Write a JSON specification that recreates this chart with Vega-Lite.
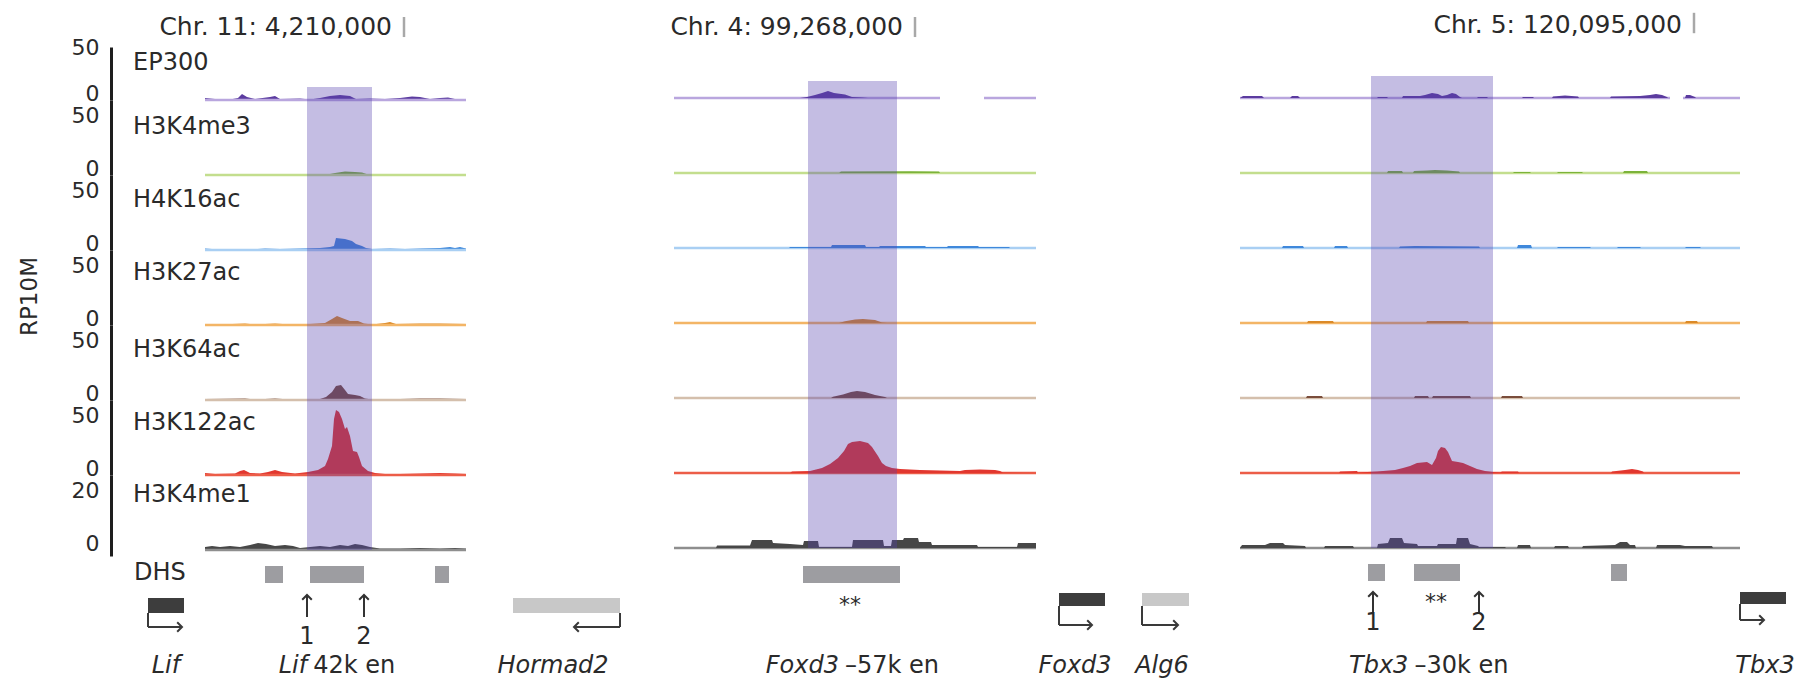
{
"$schema":"https://vega.github.io/schema/vega-lite/v6.json",
"width":1701,"height":679,"autosize":{"type":"none"},"padding":{"left":111,"top":0,"right":0,"bottom":0},"background":"white",
"config":{"view":{"stroke":null},"font":"DejaVu Sans"},
"datasets":{
"tracks":[{"t":"EP300"},{"t":"H3K4me3"},{"t":"H4K16ac"},{"t":"H3K27ac"},{"t":"H3K64ac"},{"t":"H3K122ac"},{"t":"H3K4me1"}],
"chr":[{"p":1,"lab":"Chr. 11: 4,210,000","x":73.25},{"p":2,"lab":"Chr. 4: 99,268,000","x":71},{"p":3,"lab":"Chr. 5: 120,095,000","x":119.75}],
"band":[{"p":1,"x1":49,"x2":65.25},{"p":2,"x1":44.25,"x2":66.5},{"p":3,"x1":39,"x2":69.5}],
"base":[
{"p":1,"t":"EP300","x1":23.5,"x2":88.75},{"p":1,"t":"H3K4me3","x1":23.5,"x2":88.75},{"p":1,"t":"H4K16ac","x1":23.5,"x2":88.75},{"p":1,"t":"H3K27ac","x1":23.5,"x2":88.75},{"p":1,"t":"H3K64ac","x1":23.5,"x2":88.75},{"p":1,"t":"H3K122ac","x1":23.5,"x2":88.75},{"p":1,"t":"H3K4me1","x1":23.5,"x2":88.75},
{"p":2,"t":"EP300","x1":10.75,"x2":77.25},{"p":2,"t":"EP300","x1":88.25,"x2":101.25},{"p":2,"t":"H3K4me3","x1":10.75,"x2":101.25},{"p":2,"t":"H4K16ac","x1":10.75,"x2":101.25},{"p":2,"t":"H3K27ac","x1":10.75,"x2":101.25},{"p":2,"t":"H3K64ac","x1":10.75,"x2":101.25},{"p":2,"t":"H3K122ac","x1":10.75,"x2":101.25},{"p":2,"t":"H3K4me1","x1":10.75,"x2":101.25},
{"p":3,"t":"EP300","x1":6.25,"x2":113.75},{"p":3,"t":"EP300","x1":117,"x2":131.25},{"p":3,"t":"H3K4me3","x1":6.25,"x2":131.25},{"p":3,"t":"H4K16ac","x1":6.25,"x2":131.25},{"p":3,"t":"H3K27ac","x1":6.25,"x2":131.25},{"p":3,"t":"H3K64ac","x1":6.25,"x2":131.25},{"p":3,"t":"H3K122ac","x1":6.25,"x2":131.25},{"p":3,"t":"H3K4me1","x1":6.25,"x2":131.25}],
"dhs":[{"p":1,"x1":38.5,"x2":43},{"p":1,"x1":49.75,"x2":63.25},{"p":1,"x1":81,"x2":84.5},{"p":2,"x1":43,"x2":67.25},{"p":3,"x1":38.25,"x2":42.5},{"p":3,"x1":49.75,"x2":61.25},{"p":3,"x1":99,"x2":103}],
"site":[{"p":1,"x":49,"n":"1"},{"p":1,"x":63.25,"n":"2"},{"p":3,"x":39.5,"n":"1"},{"p":3,"x":66,"n":"2"}],
"star":[{"p":2,"x":54.75,"s":"**"},{"p":3,"x":55.25,"s":"**"}],
"gene":[{"p":1,"g":"Lif","s":9.25,"e":18.25,"tss":9.25,"tip":17.75,"lx":13.75,"role":"target","strand":"+"},{"p":1,"g":"Hormad2","s":100.5,"e":127.25,"tss":127.25,"tip":115.75,"lx":110.5,"role":"neighbor","strand":"-"},{"p":2,"g":"Foxd3","s":107,"e":118.5,"tss":107,"tip":115.25,"lx":111,"role":"target","strand":"+"},{"p":2,"g":"Alg6","s":127.75,"e":139.5,"tss":127.75,"tip":136.75,"lx":132.75,"role":"neighbor","strand":"+"},{"p":3,"g":"Tbx3","s":131.25,"e":142.75,"tss":131.25,"tip":137.25,"lx":137.5,"role":"target","strand":"+"}],
"enh":[{"p":1,"g":"Lif","r":"42k en","x":49.8},{"p":2,"g":"Foxd3","r":"–57k en","x":52.75},{"p":3,"g":"Tbx3","r":"–30k en","x":49.1}],
"sig":[
{"p":1,"t":"EP300","x":23.5,"v":1.9},{"p":1,"t":"EP300","x":26,"v":0.9},{"p":1,"t":"EP300","x":29.75,"v":0.5},{"p":1,"t":"EP300","x":31.75,"v":1.9},{"p":1,"t":"EP300","x":32.75,"v":5.7},{"p":1,"t":"EP300","x":34,"v":2.8},{"p":1,"t":"EP300","x":36,"v":0.9},{"p":1,"t":"EP300","x":39.75,"v":2.8},{"p":1,"t":"EP300","x":41,"v":3.8},{"p":1,"t":"EP300","x":42.25,"v":0.9},{"p":1,"t":"EP300","x":47.25,"v":1.4},{"p":1,"t":"EP300","x":49.75,"v":0.5},{"p":1,"t":"EP300","x":52.25,"v":1.9},{"p":1,"t":"EP300","x":54.75,"v":3.8},{"p":1,"t":"EP300","x":57.25,"v":4.7},{"p":1,"t":"EP300","x":59.75,"v":3.8},{"p":1,"t":"EP300","x":61.25,"v":0.9},{"p":1,"t":"EP300","x":64.75,"v":1.4},{"p":1,"t":"EP300","x":68.5,"v":0.9},{"p":1,"t":"EP300","x":72.25,"v":1.9},{"p":1,"t":"EP300","x":75.25,"v":3.3},{"p":1,"t":"EP300","x":77.25,"v":2.8},{"p":1,"t":"EP300","x":79.75,"v":0.9},{"p":1,"t":"EP300","x":82.25,"v":1.9},{"p":1,"t":"EP300","x":84.25,"v":2.4},{"p":1,"t":"EP300","x":86,"v":0.9},{"p":1,"t":"EP300","x":88.75,"v":0.5},
{"p":1,"t":"H3K4me3","x":23.5,"v":0},{"p":1,"t":"H3K4me3","x":29.25,"v":0},{"p":1,"t":"H3K4me3","x":30.5,"v":0.8},{"p":1,"t":"H3K4me3","x":31.75,"v":0},{"p":1,"t":"H3K4me3","x":53.5,"v":0},{"p":1,"t":"H3K4me3","x":56,"v":1.7},{"p":1,"t":"H3K4me3","x":58.5,"v":2.9},{"p":1,"t":"H3K4me3","x":61,"v":2.5},{"p":1,"t":"H3K4me3","x":62.75,"v":2.1},{"p":1,"t":"H3K4me3","x":64.25,"v":0.4},{"p":1,"t":"H3K4me3","x":65.25,"v":0},{"p":1,"t":"H3K4me3","x":88.75,"v":0},
{"p":1,"t":"H4K16ac","x":23.5,"v":1.3},{"p":1,"t":"H4K16ac","x":25.25,"v":0.8},{"p":1,"t":"H4K16ac","x":27.25,"v":0.4},{"p":1,"t":"H4K16ac","x":32.25,"v":0.8},{"p":1,"t":"H4K16ac","x":34.75,"v":0.4},{"p":1,"t":"H4K16ac","x":38.5,"v":1.3},{"p":1,"t":"H4K16ac","x":42.25,"v":0.8},{"p":1,"t":"H4K16ac","x":47.25,"v":1.3},{"p":1,"t":"H4K16ac","x":52.25,"v":1.7},{"p":1,"t":"H4K16ac","x":54.75,"v":2.5},{"p":1,"t":"H4K16ac","x":55.75,"v":3.3},{"p":1,"t":"H4K16ac","x":56.25,"v":10},{"p":1,"t":"H4K16ac","x":58.5,"v":9.2},{"p":1,"t":"H4K16ac","x":60.25,"v":7.5},{"p":1,"t":"H4K16ac","x":61.25,"v":5},{"p":1,"t":"H4K16ac","x":62.75,"v":3.3},{"p":1,"t":"H4K16ac","x":63.75,"v":1.7},{"p":1,"t":"H4K16ac","x":65.25,"v":0.8},{"p":1,"t":"H4K16ac","x":69.75,"v":1.3},{"p":1,"t":"H4K16ac","x":73.5,"v":0.8},{"p":1,"t":"H4K16ac","x":77.25,"v":1.3},{"p":1,"t":"H4K16ac","x":82.25,"v":1.7},{"p":1,"t":"H4K16ac","x":84.75,"v":2.5},{"p":1,"t":"H4K16ac","x":86,"v":1.7},{"p":1,"t":"H4K16ac","x":87.25,"v":2.5},{"p":1,"t":"H4K16ac","x":88.75,"v":1.3},
{"p":1,"t":"H3K27ac","x":23.5,"v":0.8},{"p":1,"t":"H3K27ac","x":27.25,"v":0.4},{"p":1,"t":"H3K27ac","x":33.5,"v":1.3},{"p":1,"t":"H3K27ac","x":36,"v":0.4},{"p":1,"t":"H3K27ac","x":41,"v":1.3},{"p":1,"t":"H3K27ac","x":44.75,"v":0.4},{"p":1,"t":"H3K27ac","x":49.75,"v":0.8},{"p":1,"t":"H3K27ac","x":53.5,"v":1.7},{"p":1,"t":"H3K27ac","x":55.25,"v":5},{"p":1,"t":"H3K27ac","x":56.5,"v":7.5},{"p":1,"t":"H3K27ac","x":57.75,"v":5.8},{"p":1,"t":"H3K27ac","x":59.75,"v":3.3},{"p":1,"t":"H3K27ac","x":61.75,"v":3.3},{"p":1,"t":"H3K27ac","x":63.25,"v":1.3},{"p":1,"t":"H3K27ac","x":65.25,"v":0.4},{"p":1,"t":"H3K27ac","x":68.5,"v":1.7},{"p":1,"t":"H3K27ac","x":69.75,"v":2.5},{"p":1,"t":"H3K27ac","x":71.25,"v":0.8},{"p":1,"t":"H3K27ac","x":77.25,"v":1.3},{"p":1,"t":"H3K27ac","x":82.25,"v":1.3},{"p":1,"t":"H3K27ac","x":88.75,"v":0.8},
{"p":1,"t":"H3K64ac","x":23.5,"v":0.8},{"p":1,"t":"H3K64ac","x":33.5,"v":1.3},{"p":1,"t":"H3K64ac","x":36,"v":0.4},{"p":1,"t":"H3K64ac","x":41,"v":1.3},{"p":1,"t":"H3K64ac","x":44.75,"v":0.4},{"p":1,"t":"H3K64ac","x":52.25,"v":0.8},{"p":1,"t":"H3K64ac","x":53.75,"v":2.5},{"p":1,"t":"H3K64ac","x":55.25,"v":6.7},{"p":1,"t":"H3K64ac","x":56.25,"v":11.7},{"p":1,"t":"H3K64ac","x":57.5,"v":12.5},{"p":1,"t":"H3K64ac","x":58.5,"v":8.3},{"p":1,"t":"H3K64ac","x":59.25,"v":5},{"p":1,"t":"H3K64ac","x":61,"v":4.2},{"p":1,"t":"H3K64ac","x":62.25,"v":3.3},{"p":1,"t":"H3K64ac","x":63.5,"v":1.3},{"p":1,"t":"H3K64ac","x":65.25,"v":0.4},{"p":1,"t":"H3K64ac","x":72.25,"v":0.8},{"p":1,"t":"H3K64ac","x":77.25,"v":1.3},{"p":1,"t":"H3K64ac","x":82.25,"v":1.3},{"p":1,"t":"H3K64ac","x":88.75,"v":0.8},
{"p":1,"t":"H3K122ac","x":23.5,"v":1.7},{"p":1,"t":"H3K122ac","x":26,"v":0.8},{"p":1,"t":"H3K122ac","x":31,"v":1.3},{"p":1,"t":"H3K122ac","x":32.25,"v":3.3},{"p":1,"t":"H3K122ac","x":33.25,"v":4.2},{"p":1,"t":"H3K122ac","x":34.75,"v":1.7},{"p":1,"t":"H3K122ac","x":37.25,"v":1.3},{"p":1,"t":"H3K122ac","x":39.25,"v":2.5},{"p":1,"t":"H3K122ac","x":41,"v":4.2},{"p":1,"t":"H3K122ac","x":42.75,"v":2.5},{"p":1,"t":"H3K122ac","x":46,"v":1.3},{"p":1,"t":"H3K122ac","x":49.25,"v":2.5},{"p":1,"t":"H3K122ac","x":51.75,"v":4.2},{"p":1,"t":"H3K122ac","x":53.5,"v":7.5},{"p":1,"t":"H3K122ac","x":54.25,"v":13.3},{"p":1,"t":"H3K122ac","x":55.25,"v":24.2},{"p":1,"t":"H3K122ac","x":55.75,"v":46.7},{"p":1,"t":"H3K122ac","x":56.25,"v":54.2},{"p":1,"t":"H3K122ac","x":57,"v":52.5},{"p":1,"t":"H3K122ac","x":57.75,"v":46.7},{"p":1,"t":"H3K122ac","x":58.5,"v":38.3},{"p":1,"t":"H3K122ac","x":59,"v":40},{"p":1,"t":"H3K122ac","x":59.75,"v":32.5},{"p":1,"t":"H3K122ac","x":60.5,"v":20},{"p":1,"t":"H3K122ac","x":61.5,"v":19.2},{"p":1,"t":"H3K122ac","x":62,"v":15},{"p":1,"t":"H3K122ac","x":62.75,"v":7.5},{"p":1,"t":"H3K122ac","x":64.25,"v":3.3},{"p":1,"t":"H3K122ac","x":66,"v":1.7},{"p":1,"t":"H3K122ac","x":68.5,"v":0.8},{"p":1,"t":"H3K122ac","x":72.25,"v":0.8},{"p":1,"t":"H3K122ac","x":77.25,"v":1.3},{"p":1,"t":"H3K122ac","x":82.25,"v":1.7},{"p":1,"t":"H3K122ac","x":86,"v":1.3},{"p":1,"t":"H3K122ac","x":88.75,"v":0.8},
{"p":1,"t":"H3K4me1","x":23.5,"v":1},{"p":1,"t":"H3K4me1","x":25.25,"v":1.3},{"p":1,"t":"H3K4me1","x":27.25,"v":1},{"p":1,"t":"H3K4me1","x":29.75,"v":1.3},{"p":1,"t":"H3K4me1","x":32.25,"v":1},{"p":1,"t":"H3K4me1","x":34.75,"v":1.7},{"p":1,"t":"H3K4me1","x":36.75,"v":2.3},{"p":1,"t":"H3K4me1","x":38.75,"v":2},{"p":1,"t":"H3K4me1","x":41,"v":1.3},{"p":1,"t":"H3K4me1","x":43.5,"v":1.7},{"p":1,"t":"H3K4me1","x":45.5,"v":1.3},{"p":1,"t":"H3K4me1","x":47.25,"v":0.7},{"p":1,"t":"H3K4me1","x":49.75,"v":1},{"p":1,"t":"H3K4me1","x":52.25,"v":1.3},{"p":1,"t":"H3K4me1","x":54.75,"v":1},{"p":1,"t":"H3K4me1","x":57.25,"v":1.7},{"p":1,"t":"H3K4me1","x":59.25,"v":1.3},{"p":1,"t":"H3K4me1","x":61,"v":2},{"p":1,"t":"H3K4me1","x":62.75,"v":1.7},{"p":1,"t":"H3K4me1","x":64.75,"v":1},{"p":1,"t":"H3K4me1","x":67.25,"v":0.5},{"p":1,"t":"H3K4me1","x":72.25,"v":0.5},{"p":1,"t":"H3K4me1","x":77.25,"v":0.7},{"p":1,"t":"H3K4me1","x":82.25,"v":0.5},{"p":1,"t":"H3K4me1","x":86,"v":0.7},{"p":1,"t":"H3K4me1","x":88.75,"v":0.5},
{"p":2,"t":"EP300","x":10.75,"v":0},{"p":2,"t":"EP300","x":42.25,"v":0},{"p":2,"t":"EP300","x":44,"v":0.8},{"p":2,"t":"EP300","x":46,"v":2.5},{"p":2,"t":"EP300","x":47.75,"v":4.2},{"p":2,"t":"EP300","x":49.25,"v":5.8},{"p":2,"t":"EP300","x":50.75,"v":4.2},{"p":2,"t":"EP300","x":53.5,"v":2.9},{"p":2,"t":"EP300","x":55.25,"v":0.8},{"p":2,"t":"EP300","x":57.75,"v":0.4},{"p":2,"t":"EP300","x":59.25,"v":0},{"p":2,"t":"EP300","x":101.25,"v":0},
{"p":2,"t":"H3K4me3","x":10.75,"v":0},{"p":2,"t":"H3K4me3","x":52,"v":0},{"p":2,"t":"H3K4me3","x":52.5,"v":1.2},{"p":2,"t":"H3K4me3","x":70,"v":1.5},{"p":2,"t":"H3K4me3","x":77,"v":1.2},{"p":2,"t":"H3K4me3","x":77.25,"v":0},{"p":2,"t":"H3K4me3","x":101.25,"v":0},
{"p":2,"t":"H4K16ac","x":10.75,"v":0},{"p":2,"t":"H4K16ac","x":39.5,"v":0},{"p":2,"t":"H4K16ac","x":39.75,"v":0.8},{"p":2,"t":"H4K16ac","x":50,"v":0.8},{"p":2,"t":"H4K16ac","x":50.25,"v":2.5},{"p":2,"t":"H4K16ac","x":58.5,"v":2.5},{"p":2,"t":"H4K16ac","x":58.75,"v":0.8},{"p":2,"t":"H4K16ac","x":62,"v":0.8},{"p":2,"t":"H4K16ac","x":62.25,"v":1.7},{"p":2,"t":"H4K16ac","x":73.5,"v":1.7},{"p":2,"t":"H4K16ac","x":73.75,"v":0.8},{"p":2,"t":"H4K16ac","x":79,"v":0.8},{"p":2,"t":"H4K16ac","x":79.25,"v":1.7},{"p":2,"t":"H4K16ac","x":86.75,"v":1.7},{"p":2,"t":"H4K16ac","x":87,"v":0.8},{"p":2,"t":"H4K16ac","x":94.5,"v":0.8},{"p":2,"t":"H4K16ac","x":94.75,"v":0},{"p":2,"t":"H4K16ac","x":101.25,"v":0},
{"p":2,"t":"H3K27ac","x":10.75,"v":0},{"p":2,"t":"H3K27ac","x":52,"v":0},{"p":2,"t":"H3K27ac","x":53.5,"v":1.5},{"p":2,"t":"H3K27ac","x":56,"v":3},{"p":2,"t":"H3K27ac","x":58,"v":3.3},{"p":2,"t":"H3K27ac","x":61,"v":2.5},{"p":2,"t":"H3K27ac","x":62.75,"v":0.5},{"p":2,"t":"H3K27ac","x":64,"v":0},{"p":2,"t":"H3K27ac","x":101.25,"v":0},
{"p":2,"t":"H3K64ac","x":10.75,"v":0},{"p":2,"t":"H3K64ac","x":50,"v":0},{"p":2,"t":"H3K64ac","x":50.5,"v":1},{"p":2,"t":"H3K64ac","x":53,"v":3},{"p":2,"t":"H3K64ac","x":55,"v":5},{"p":2,"t":"H3K64ac","x":56.5,"v":5.8},{"p":2,"t":"H3K64ac","x":58.5,"v":5},{"p":2,"t":"H3K64ac","x":61,"v":2.5},{"p":2,"t":"H3K64ac","x":63.5,"v":0.8},{"p":2,"t":"H3K64ac","x":64,"v":0},{"p":2,"t":"H3K64ac","x":101.25,"v":0},
{"p":2,"t":"H3K122ac","x":10.75,"v":0},{"p":2,"t":"H3K122ac","x":39.75,"v":0},{"p":2,"t":"H3K122ac","x":40.25,"v":1.3},{"p":2,"t":"H3K122ac","x":44.75,"v":1.7},{"p":2,"t":"H3K122ac","x":47.75,"v":4.2},{"p":2,"t":"H3K122ac","x":49.75,"v":7.5},{"p":2,"t":"H3K122ac","x":51.75,"v":12.5},{"p":2,"t":"H3K122ac","x":53.25,"v":18.3},{"p":2,"t":"H3K122ac","x":54.25,"v":24.2},{"p":2,"t":"H3K122ac","x":55.25,"v":25.8},{"p":2,"t":"H3K122ac","x":57.25,"v":26.7},{"p":2,"t":"H3K122ac","x":59.25,"v":25},{"p":2,"t":"H3K122ac","x":60.25,"v":21.7},{"p":2,"t":"H3K122ac","x":61.75,"v":14.2},{"p":2,"t":"H3K122ac","x":62.75,"v":8.3},{"p":2,"t":"H3K122ac","x":63.75,"v":5.8},{"p":2,"t":"H3K122ac","x":65.25,"v":4.2},{"p":2,"t":"H3K122ac","x":67.25,"v":3.3},{"p":2,"t":"H3K122ac","x":72.25,"v":2.5},{"p":2,"t":"H3K122ac","x":77.25,"v":2.1},{"p":2,"t":"H3K122ac","x":82.25,"v":1.7},{"p":2,"t":"H3K122ac","x":83.5,"v":2.5},{"p":2,"t":"H3K122ac","x":87.25,"v":2.9},{"p":2,"t":"H3K122ac","x":91,"v":2.5},{"p":2,"t":"H3K122ac","x":92.25,"v":1.7},{"p":2,"t":"H3K122ac","x":93,"v":0.4},{"p":2,"t":"H3K122ac","x":101.25,"v":0},
{"p":2,"t":"H3K4me1","x":10.75,"v":0},{"p":2,"t":"H3K4me1","x":21.25,"v":0},{"p":2,"t":"H3K4me1","x":21.5,"v":0.8},{"p":2,"t":"H3K4me1","x":29.75,"v":0.8},{"p":2,"t":"H3K4me1","x":30.25,"v":2.7},{"p":2,"t":"H3K4me1","x":35.25,"v":2.7},{"p":2,"t":"H3K4me1","x":35.5,"v":1.7},{"p":2,"t":"H3K4me1","x":39.75,"v":1.3},{"p":2,"t":"H3K4me1","x":43,"v":1},{"p":2,"t":"H3K4me1","x":43.25,"v":2.3},{"p":2,"t":"H3K4me1","x":46.75,"v":2.3},{"p":2,"t":"H3K4me1","x":47,"v":0.3},{"p":2,"t":"H3K4me1","x":55.25,"v":0.3},{"p":2,"t":"H3K4me1","x":55.5,"v":2.7},{"p":2,"t":"H3K4me1","x":63,"v":2.7},{"p":2,"t":"H3K4me1","x":63.25,"v":0.7},{"p":2,"t":"H3K4me1","x":65,"v":0.7},{"p":2,"t":"H3K4me1","x":65.25,"v":2.7},{"p":2,"t":"H3K4me1","x":68,"v":2.7},{"p":2,"t":"H3K4me1","x":68.25,"v":3.3},{"p":2,"t":"H3K4me1","x":71.75,"v":3.3},{"p":2,"t":"H3K4me1","x":72,"v":2},{"p":2,"t":"H3K4me1","x":75,"v":2},{"p":2,"t":"H3K4me1","x":75.25,"v":1},{"p":2,"t":"H3K4me1","x":86.5,"v":1},{"p":2,"t":"H3K4me1","x":86.75,"v":0.3},{"p":2,"t":"H3K4me1","x":96.5,"v":0.3},{"p":2,"t":"H3K4me1","x":96.75,"v":1.7},{"p":2,"t":"H3K4me1","x":101.25,"v":1.7},
{"p":3,"t":"EP300","x":6.25,"v":0},{"p":3,"t":"EP300","x":7,"v":1.7},{"p":3,"t":"EP300","x":11.75,"v":1.7},{"p":3,"t":"EP300","x":12.25,"v":0},{"p":3,"t":"EP300","x":18.75,"v":0},{"p":3,"t":"EP300","x":19.25,"v":1.7},{"p":3,"t":"EP300","x":20.75,"v":1.7},{"p":3,"t":"EP300","x":21.25,"v":0},{"p":3,"t":"EP300","x":40.5,"v":0},{"p":3,"t":"EP300","x":40.75,"v":0.8},{"p":3,"t":"EP300","x":43,"v":0.8},{"p":3,"t":"EP300","x":43.25,"v":0},{"p":3,"t":"EP300","x":46.75,"v":0},{"p":3,"t":"EP300","x":47,"v":1.7},{"p":3,"t":"EP300","x":51.25,"v":1.7},{"p":3,"t":"EP300","x":52.5,"v":2.5},{"p":3,"t":"EP300","x":54.25,"v":4.2},{"p":3,"t":"EP300","x":55.75,"v":3.3},{"p":3,"t":"EP300","x":56.75,"v":1.7},{"p":3,"t":"EP300","x":58,"v":2.5},{"p":3,"t":"EP300","x":59.25,"v":4.2},{"p":3,"t":"EP300","x":60.25,"v":3.3},{"p":3,"t":"EP300","x":61.25,"v":0.8},{"p":3,"t":"EP300","x":61.75,"v":0},{"p":3,"t":"EP300","x":65.5,"v":0},{"p":3,"t":"EP300","x":65.75,"v":0.8},{"p":3,"t":"EP300","x":68,"v":0.8},{"p":3,"t":"EP300","x":68.25,"v":0},{"p":3,"t":"EP300","x":76.75,"v":0},{"p":3,"t":"EP300","x":77,"v":0.8},{"p":3,"t":"EP300","x":79.5,"v":0.8},{"p":3,"t":"EP300","x":79.75,"v":0},{"p":3,"t":"EP300","x":84.25,"v":0},{"p":3,"t":"EP300","x":84.5,"v":1.3},{"p":3,"t":"EP300","x":87.5,"v":2.1},{"p":3,"t":"EP300","x":90.75,"v":1.3},{"p":3,"t":"EP300","x":91,"v":0},{"p":3,"t":"EP300","x":98.75,"v":0},{"p":3,"t":"EP300","x":99,"v":1.3},{"p":3,"t":"EP300","x":106.25,"v":1.7},{"p":3,"t":"EP300","x":108.75,"v":2.5},{"p":3,"t":"EP300","x":110.25,"v":3.3},{"p":3,"t":"EP300","x":111.75,"v":2.5},{"p":3,"t":"EP300","x":113,"v":0.8},{"p":3,"t":"EP300","x":113.25,"v":0},{"p":3,"t":"EP300","x":117.5,"v":0},{"p":3,"t":"EP300","x":117.75,"v":2.5},{"p":3,"t":"EP300","x":118.75,"v":2.5},{"p":3,"t":"EP300","x":120,"v":0.8},{"p":3,"t":"EP300","x":120.25,"v":0},{"p":3,"t":"EP300","x":131.25,"v":0},
{"p":3,"t":"H3K4me3","x":6.25,"v":0},{"p":3,"t":"H3K4me3","x":43,"v":0},{"p":3,"t":"H3K4me3","x":43.25,"v":1.7},{"p":3,"t":"H3K4me3","x":46.75,"v":1.7},{"p":3,"t":"H3K4me3","x":47,"v":0},{"p":3,"t":"H3K4me3","x":49.5,"v":0},{"p":3,"t":"H3K4me3","x":49.75,"v":1.7},{"p":3,"t":"H3K4me3","x":53,"v":2},{"p":3,"t":"H3K4me3","x":55,"v":2.5},{"p":3,"t":"H3K4me3","x":58,"v":2},{"p":3,"t":"H3K4me3","x":61,"v":1.3},{"p":3,"t":"H3K4me3","x":61.25,"v":0},{"p":3,"t":"H3K4me3","x":74.5,"v":0},{"p":3,"t":"H3K4me3","x":74.75,"v":0.8},{"p":3,"t":"H3K4me3","x":78.75,"v":0.8},{"p":3,"t":"H3K4me3","x":79,"v":0},{"p":3,"t":"H3K4me3","x":85.5,"v":0},{"p":3,"t":"H3K4me3","x":85.75,"v":0.8},{"p":3,"t":"H3K4me3","x":91.75,"v":0.8},{"p":3,"t":"H3K4me3","x":92,"v":0},{"p":3,"t":"H3K4me3","x":102,"v":0},{"p":3,"t":"H3K4me3","x":102.25,"v":1.7},{"p":3,"t":"H3K4me3","x":108,"v":1.7},{"p":3,"t":"H3K4me3","x":108.25,"v":0},{"p":3,"t":"H3K4me3","x":131.25,"v":0},
{"p":3,"t":"H4K16ac","x":6.25,"v":0},{"p":3,"t":"H4K16ac","x":16.75,"v":0},{"p":3,"t":"H4K16ac","x":17,"v":1.7},{"p":3,"t":"H4K16ac","x":22,"v":1.7},{"p":3,"t":"H4K16ac","x":22.25,"v":0},{"p":3,"t":"H4K16ac","x":29.75,"v":0},{"p":3,"t":"H4K16ac","x":30,"v":1.7},{"p":3,"t":"H4K16ac","x":33,"v":1.7},{"p":3,"t":"H4K16ac","x":33.25,"v":0},{"p":3,"t":"H4K16ac","x":46,"v":0},{"p":3,"t":"H4K16ac","x":46.25,"v":1.3},{"p":3,"t":"H4K16ac","x":50,"v":1.7},{"p":3,"t":"H4K16ac","x":66,"v":1.3},{"p":3,"t":"H4K16ac","x":66.25,"v":0},{"p":3,"t":"H4K16ac","x":75.5,"v":0},{"p":3,"t":"H4K16ac","x":75.75,"v":2.5},{"p":3,"t":"H4K16ac","x":79,"v":2.5},{"p":3,"t":"H4K16ac","x":79.25,"v":0},{"p":3,"t":"H4K16ac","x":85.5,"v":0},{"p":3,"t":"H4K16ac","x":85.75,"v":0.8},{"p":3,"t":"H4K16ac","x":93.75,"v":0.8},{"p":3,"t":"H4K16ac","x":94,"v":0},{"p":3,"t":"H4K16ac","x":100.5,"v":0},{"p":3,"t":"H4K16ac","x":100.75,"v":0.8},{"p":3,"t":"H4K16ac","x":106.25,"v":0.8},{"p":3,"t":"H4K16ac","x":106.5,"v":0},{"p":3,"t":"H4K16ac","x":117.5,"v":0},{"p":3,"t":"H4K16ac","x":117.75,"v":0.8},{"p":3,"t":"H4K16ac","x":121.25,"v":0.8},{"p":3,"t":"H4K16ac","x":121.5,"v":0},{"p":3,"t":"H4K16ac","x":131.25,"v":0},
{"p":3,"t":"H3K27ac","x":6.25,"v":0},{"p":3,"t":"H3K27ac","x":23,"v":0},{"p":3,"t":"H3K27ac","x":23.25,"v":1.7},{"p":3,"t":"H3K27ac","x":29.5,"v":1.7},{"p":3,"t":"H3K27ac","x":29.75,"v":0},{"p":3,"t":"H3K27ac","x":52.75,"v":0},{"p":3,"t":"H3K27ac","x":53,"v":1.7},{"p":3,"t":"H3K27ac","x":63.25,"v":1.7},{"p":3,"t":"H3K27ac","x":63.5,"v":0},{"p":3,"t":"H3K27ac","x":117.5,"v":0},{"p":3,"t":"H3K27ac","x":117.75,"v":1.7},{"p":3,"t":"H3K27ac","x":120.5,"v":1.7},{"p":3,"t":"H3K27ac","x":120.75,"v":0},{"p":3,"t":"H3K27ac","x":131.25,"v":0},
{"p":3,"t":"H3K64ac","x":6.25,"v":0},{"p":3,"t":"H3K64ac","x":22.75,"v":0},{"p":3,"t":"H3K64ac","x":23,"v":1.7},{"p":3,"t":"H3K64ac","x":26.75,"v":1.7},{"p":3,"t":"H3K64ac","x":27,"v":0},{"p":3,"t":"H3K64ac","x":49.75,"v":0},{"p":3,"t":"H3K64ac","x":50,"v":1.7},{"p":3,"t":"H3K64ac","x":53.25,"v":1.7},{"p":3,"t":"H3K64ac","x":53.5,"v":0},{"p":3,"t":"H3K64ac","x":54.25,"v":0},{"p":3,"t":"H3K64ac","x":54.5,"v":1.7},{"p":3,"t":"H3K64ac","x":63.75,"v":1.7},{"p":3,"t":"H3K64ac","x":64,"v":0},{"p":3,"t":"H3K64ac","x":71.5,"v":0},{"p":3,"t":"H3K64ac","x":71.75,"v":1.7},{"p":3,"t":"H3K64ac","x":76.75,"v":1.7},{"p":3,"t":"H3K64ac","x":77,"v":0},{"p":3,"t":"H3K64ac","x":131.25,"v":0},
{"p":3,"t":"H3K122ac","x":6.25,"v":0},{"p":3,"t":"H3K122ac","x":31,"v":0},{"p":3,"t":"H3K122ac","x":31.25,"v":1.3},{"p":3,"t":"H3K122ac","x":35.5,"v":1.7},{"p":3,"t":"H3K122ac","x":35.75,"v":0.4},{"p":3,"t":"H3K122ac","x":40.5,"v":1.3},{"p":3,"t":"H3K122ac","x":45,"v":2.5},{"p":3,"t":"H3K122ac","x":47,"v":4.2},{"p":3,"t":"H3K122ac","x":48.75,"v":5.8},{"p":3,"t":"H3K122ac","x":50.5,"v":8.3},{"p":3,"t":"H3K122ac","x":53,"v":9.2},{"p":3,"t":"H3K122ac","x":54.25,"v":6.7},{"p":3,"t":"H3K122ac","x":55.25,"v":12.5},{"p":3,"t":"H3K122ac","x":55.75,"v":18.3},{"p":3,"t":"H3K122ac","x":56.5,"v":21.7},{"p":3,"t":"H3K122ac","x":57.5,"v":20.8},{"p":3,"t":"H3K122ac","x":58.25,"v":17.5},{"p":3,"t":"H3K122ac","x":59.25,"v":10},{"p":3,"t":"H3K122ac","x":60.75,"v":9.2},{"p":3,"t":"H3K122ac","x":62,"v":8.3},{"p":3,"t":"H3K122ac","x":63.75,"v":5.8},{"p":3,"t":"H3K122ac","x":65.5,"v":3.3},{"p":3,"t":"H3K122ac","x":67.5,"v":1.7},{"p":3,"t":"H3K122ac","x":69.5,"v":0.8},{"p":3,"t":"H3K122ac","x":71.25,"v":0.4},{"p":3,"t":"H3K122ac","x":71.75,"v":1.3},{"p":3,"t":"H3K122ac","x":75.75,"v":1.3},{"p":3,"t":"H3K122ac","x":76,"v":0},{"p":3,"t":"H3K122ac","x":99,"v":0},{"p":3,"t":"H3K122ac","x":99.25,"v":1.3},{"p":3,"t":"H3K122ac","x":102.5,"v":2.5},{"p":3,"t":"H3K122ac","x":104.25,"v":3.3},{"p":3,"t":"H3K122ac","x":105.75,"v":2.5},{"p":3,"t":"H3K122ac","x":107,"v":1.3},{"p":3,"t":"H3K122ac","x":107.25,"v":0},{"p":3,"t":"H3K122ac","x":131.25,"v":0},
{"p":3,"t":"H3K4me1","x":6.25,"v":0},{"p":3,"t":"H3K4me1","x":6.75,"v":1},{"p":3,"t":"H3K4me1","x":12.5,"v":1},{"p":3,"t":"H3K4me1","x":13.75,"v":1.7},{"p":3,"t":"H3K4me1","x":17,"v":1.7},{"p":3,"t":"H3K4me1","x":17.5,"v":1},{"p":3,"t":"H3K4me1","x":22.5,"v":0.7},{"p":3,"t":"H3K4me1","x":22.75,"v":0},{"p":3,"t":"H3K4me1","x":27.25,"v":0},{"p":3,"t":"H3K4me1","x":27.5,"v":0.7},{"p":3,"t":"H3K4me1","x":34.5,"v":0.7},{"p":3,"t":"H3K4me1","x":34.75,"v":0},{"p":3,"t":"H3K4me1","x":40.5,"v":0},{"p":3,"t":"H3K4me1","x":40.75,"v":1.3},{"p":3,"t":"H3K4me1","x":43.25,"v":1.7},{"p":3,"t":"H3K4me1","x":43.75,"v":3.3},{"p":3,"t":"H3K4me1","x":46.75,"v":3.3},{"p":3,"t":"H3K4me1","x":47.25,"v":1.7},{"p":3,"t":"H3K4me1","x":50.5,"v":1.3},{"p":3,"t":"H3K4me1","x":50.75,"v":0.7},{"p":3,"t":"H3K4me1","x":55.5,"v":0.7},{"p":3,"t":"H3K4me1","x":55.75,"v":1.3},{"p":3,"t":"H3K4me1","x":60.25,"v":1.3},{"p":3,"t":"H3K4me1","x":60.5,"v":3.3},{"p":3,"t":"H3K4me1","x":63.25,"v":3.3},{"p":3,"t":"H3K4me1","x":63.75,"v":1.3},{"p":3,"t":"H3K4me1","x":65.75,"v":0.7},{"p":3,"t":"H3K4me1","x":66,"v":0.3},{"p":3,"t":"H3K4me1","x":72.5,"v":0.3},{"p":3,"t":"H3K4me1","x":72.75,"v":0},{"p":3,"t":"H3K4me1","x":75.5,"v":0},{"p":3,"t":"H3K4me1","x":75.75,"v":1},{"p":3,"t":"H3K4me1","x":78.75,"v":1},{"p":3,"t":"H3K4me1","x":79,"v":0},{"p":3,"t":"H3K4me1","x":84.75,"v":0},{"p":3,"t":"H3K4me1","x":85,"v":0.7},{"p":3,"t":"H3K4me1","x":88.25,"v":0.7},{"p":3,"t":"H3K4me1","x":88.5,"v":0},{"p":3,"t":"H3K4me1","x":91.75,"v":0},{"p":3,"t":"H3K4me1","x":92,"v":0.7},{"p":3,"t":"H3K4me1","x":100,"v":1},{"p":3,"t":"H3K4me1","x":101.25,"v":2},{"p":3,"t":"H3K4me1","x":103,"v":2},{"p":3,"t":"H3K4me1","x":103.75,"v":1},{"p":3,"t":"H3K4me1","x":105,"v":1},{"p":3,"t":"H3K4me1","x":105.25,"v":0},{"p":3,"t":"H3K4me1","x":110.25,"v":0},{"p":3,"t":"H3K4me1","x":110.5,"v":1},{"p":3,"t":"H3K4me1","x":116.25,"v":1},{"p":3,"t":"H3K4me1","x":117.5,"v":0.7},{"p":3,"t":"H3K4me1","x":124.25,"v":0.7},{"p":3,"t":"H3K4me1","x":124.5,"v":0},{"p":3,"t":"H3K4me1","x":131.25,"v":0}
]},
"layer":[
{"data":{"name":"sig"},"transform":[{"filter":"datum.p==1&&datum.t=='EP300'"}],"mark":{"type":"area","color":"#5b3b9f"},"encoding":{"x":{"field":"x","type":"quantitative","scale":{"domain":[0,130],"range":[0,520],"nice":false,"zero":false},"axis":null},"y":{"field":"v","type":"quantitative","scale":{"domain":[0,50],"range":[100,47],"nice":false,"zero":false},"axis":{"orient":"left","values":[0,50],"ticks":false,"domainColor":"#1e1e1e","domainWidth":3,"labelFontSize":22,"labelColor":"#2a2a2a","labelPadding":12,"labelBaseline":{"condition":{"test":"datum.value==0","value":"alphabetic"},"value":"middle"},"grid":false,"title":null}}}},
{"data":{"name":"sig"},"transform":[{"filter":"datum.p==1&&datum.t=='H3K4me3'"}],"mark":{"type":"area","color":"#7cb33a"},"encoding":{"x":{"field":"x","type":"quantitative","scale":{"domain":[0,130],"range":[0,520],"nice":false,"zero":false},"axis":null},"y":{"field":"v","type":"quantitative","scale":{"domain":[0,62.5],"range":[175,100],"nice":false,"zero":false},"axis":{"orient":"left","values":[0,50],"ticks":false,"domainColor":"#1e1e1e","domainWidth":3,"labelFontSize":22,"labelColor":"#2a2a2a","labelPadding":12,"labelBaseline":{"condition":{"test":"datum.value==0","value":"alphabetic"},"value":"middle"},"grid":false,"title":null}}}},
{"data":{"name":"sig"},"transform":[{"filter":"datum.p==1&&datum.t=='H4K16ac'"}],"mark":{"type":"area","color":"#3f88db"},"encoding":{"x":{"field":"x","type":"quantitative","scale":{"domain":[0,130],"range":[0,520],"nice":false,"zero":false},"axis":null},"y":{"field":"v","type":"quantitative","scale":{"domain":[0,62.5],"range":[250,175],"nice":false,"zero":false},"axis":{"orient":"left","values":[0,50],"ticks":false,"domainColor":"#1e1e1e","domainWidth":3,"labelFontSize":22,"labelColor":"#2a2a2a","labelPadding":12,"labelBaseline":{"condition":{"test":"datum.value==0","value":"alphabetic"},"value":"middle"},"grid":false,"title":null}}}},
{"data":{"name":"sig"},"transform":[{"filter":"datum.p==1&&datum.t=='H3K27ac'"}],"mark":{"type":"area","color":"#db8a28"},"encoding":{"x":{"field":"x","type":"quantitative","scale":{"domain":[0,130],"range":[0,520],"nice":false,"zero":false},"axis":null},"y":{"field":"v","type":"quantitative","scale":{"domain":[0,62.5],"range":[325,250],"nice":false,"zero":false},"axis":{"orient":"left","values":[0,50],"ticks":false,"domainColor":"#1e1e1e","domainWidth":3,"labelFontSize":22,"labelColor":"#2a2a2a","labelPadding":12,"labelBaseline":{"condition":{"test":"datum.value==0","value":"alphabetic"},"value":"middle"},"grid":false,"title":"RP10M","titleX":-82,"titleY":296,"titleAngle":-90,"titleAlign":"center","titleBaseline":"middle","titleFontSize":23,"titleFontWeight":"normal","titleColor":"#2a2a2a"}}}},
{"data":{"name":"sig"},"transform":[{"filter":"datum.p==1&&datum.t=='H3K64ac'"}],"mark":{"type":"area","color":"#7a4d3b"},"encoding":{"x":{"field":"x","type":"quantitative","scale":{"domain":[0,130],"range":[0,520],"nice":false,"zero":false},"axis":null},"y":{"field":"v","type":"quantitative","scale":{"domain":[0,62.5],"range":[400,325],"nice":false,"zero":false},"axis":{"orient":"left","values":[0,50],"ticks":false,"domainColor":"#1e1e1e","domainWidth":3,"labelFontSize":22,"labelColor":"#2a2a2a","labelPadding":12,"labelBaseline":{"condition":{"test":"datum.value==0","value":"alphabetic"},"value":"middle"},"grid":false,"title":null}}}},
{"data":{"name":"sig"},"transform":[{"filter":"datum.p==1&&datum.t=='H3K122ac'"}],"mark":{"type":"area","color":"#e2372f"},"encoding":{"x":{"field":"x","type":"quantitative","scale":{"domain":[0,130],"range":[0,520],"nice":false,"zero":false},"axis":null},"y":{"field":"v","type":"quantitative","scale":{"domain":[0,62.5],"range":[475,400],"nice":false,"zero":false},"axis":{"orient":"left","values":[0,50],"ticks":false,"domainColor":"#1e1e1e","domainWidth":3,"labelFontSize":22,"labelColor":"#2a2a2a","labelPadding":12,"labelBaseline":{"condition":{"test":"datum.value==0","value":"alphabetic"},"value":"middle"},"grid":false,"title":null}}}},
{"data":{"name":"sig"},"transform":[{"filter":"datum.p==1&&datum.t=='H3K4me1'"}],"mark":{"type":"area","color":"#474747"},"encoding":{"x":{"field":"x","type":"quantitative","scale":{"domain":[0,130],"range":[0,520],"nice":false,"zero":false},"axis":null},"y":{"field":"v","type":"quantitative","scale":{"domain":[-2,25],"range":[556,475],"nice":false,"zero":false},"axis":{"orient":"left","values":[0,20],"ticks":false,"domainColor":"#1e1e1e","domainWidth":3,"labelFontSize":22,"labelColor":"#2a2a2a","labelPadding":12,"labelBaseline":{"condition":{"test":"datum.value==0","value":"alphabetic"},"value":"middle"},"grid":false,"title":null}}}},
{"layer":[
{"data":{"name":"base"},"transform":[{"filter":"datum.p==1&&datum.t=='EP300'"}],"mark":{"type":"rule","color":"#b9a6de","strokeWidth":2.5},"encoding":{"x":{"field":"x1","type":"quantitative","scale":{"domain":[0,130],"range":[0,520],"nice":false,"zero":false},"axis":null},"x2":{"field":"x2"},"y":{"datum":0,"type":"quantitative","scale":{"domain":[0,50],"range":[100,47],"nice":false,"zero":false},"axis":null}}},
{"data":{"name":"band"},"transform":[{"filter":"datum.p==1"}],"mark":{"type":"rect","color":"#5642af","opacity":0.35},"encoding":{"x":{"field":"x1","type":"quantitative","axis":null},"x2":{"field":"x2"},"y":{"datum":0,"type":"quantitative","axis":null},"y2":{"datum":12.3}}},
{"data":{"name":"tracks"},"transform":[{"filter":"datum.t=='EP300'"}],"mark":{"type":"text","align":"left","baseline":"middle","fontSize":24,"color":"#2a2a2a"},"encoding":{"x":{"datum":5.5,"type":"quantitative","axis":null},"y":{"datum":35,"type":"quantitative","axis":null},"text":{"field":"t"}}},
{"data":{"name":"chr"},"transform":[{"filter":"datum.p==1"}],"mark":{"type":"text","align":"right","baseline":"middle","dx":-12,"fontSize":25,"color":"#2a2a2a"},"encoding":{"x":{"field":"x","type":"quantitative","axis":null},"y":{"datum":68.9,"type":"quantitative","axis":null},"text":{"field":"lab"}}},
{"data":{"name":"chr"},"transform":[{"filter":"datum.p==1"}],"mark":{"type":"rule","color":"#a8a8a8","strokeWidth":2.5},"encoding":{"x":{"field":"x","type":"quantitative","axis":null},"y":{"datum":59.4,"type":"quantitative","axis":null},"y2":{"datum":78.3}}}
]},
{"layer":[
{"data":{"name":"base"},"transform":[{"filter":"datum.p==1&&datum.t=='H3K4me3'"}],"mark":{"type":"rule","color":"#c3de8e","strokeWidth":2.5},"encoding":{"x":{"field":"x1","type":"quantitative","scale":{"domain":[0,130],"range":[0,520],"nice":false,"zero":false},"axis":null},"x2":{"field":"x2"},"y":{"datum":0,"type":"quantitative","scale":{"domain":[0,62.5],"range":[175,100],"nice":false,"zero":false},"axis":null}}},
{"data":{"name":"band"},"transform":[{"filter":"datum.p==1"}],"mark":{"type":"rect","color":"#5642af","opacity":0.35},"encoding":{"x":{"field":"x1","type":"quantitative","axis":null},"x2":{"field":"x2"},"y":{"datum":0,"type":"quantitative","axis":null},"y2":{"datum":62.5}}},
{"data":{"name":"tracks"},"transform":[{"filter":"datum.t=='H3K4me3'"}],"mark":{"type":"text","align":"left","baseline":"middle","fontSize":24,"color":"#2a2a2a"},"encoding":{"x":{"datum":5.5,"type":"quantitative","axis":null},"y":{"datum":40,"type":"quantitative","axis":null},"text":{"field":"t"}}}
]},
{"layer":[
{"data":{"name":"base"},"transform":[{"filter":"datum.p==1&&datum.t=='H4K16ac'"}],"mark":{"type":"rule","color":"#a9cff3","strokeWidth":2.5},"encoding":{"x":{"field":"x1","type":"quantitative","scale":{"domain":[0,130],"range":[0,520],"nice":false,"zero":false},"axis":null},"x2":{"field":"x2"},"y":{"datum":0,"type":"quantitative","scale":{"domain":[0,62.5],"range":[250,175],"nice":false,"zero":false},"axis":null}}},
{"data":{"name":"band"},"transform":[{"filter":"datum.p==1"}],"mark":{"type":"rect","color":"#5642af","opacity":0.35},"encoding":{"x":{"field":"x1","type":"quantitative","axis":null},"x2":{"field":"x2"},"y":{"datum":0,"type":"quantitative","axis":null},"y2":{"datum":62.5}}},
{"data":{"name":"tracks"},"transform":[{"filter":"datum.t=='H4K16ac'"}],"mark":{"type":"text","align":"left","baseline":"middle","fontSize":24,"color":"#2a2a2a"},"encoding":{"x":{"datum":5.5,"type":"quantitative","axis":null},"y":{"datum":41.7,"type":"quantitative","axis":null},"text":{"field":"t"}}}
]},
{"layer":[
{"data":{"name":"base"},"transform":[{"filter":"datum.p==1&&datum.t=='H3K27ac'"}],"mark":{"type":"rule","color":"#f3b566","strokeWidth":2.5},"encoding":{"x":{"field":"x1","type":"quantitative","scale":{"domain":[0,130],"range":[0,520],"nice":false,"zero":false},"axis":null},"x2":{"field":"x2"},"y":{"datum":0,"type":"quantitative","scale":{"domain":[0,62.5],"range":[325,250],"nice":false,"zero":false},"axis":null}}},
{"data":{"name":"band"},"transform":[{"filter":"datum.p==1"}],"mark":{"type":"rect","color":"#5642af","opacity":0.35},"encoding":{"x":{"field":"x1","type":"quantitative","axis":null},"x2":{"field":"x2"},"y":{"datum":0,"type":"quantitative","axis":null},"y2":{"datum":62.5}}},
{"data":{"name":"tracks"},"transform":[{"filter":"datum.t=='H3K27ac'"}],"mark":{"type":"text","align":"left","baseline":"middle","fontSize":24,"color":"#2a2a2a"},"encoding":{"x":{"datum":5.5,"type":"quantitative","axis":null},"y":{"datum":43,"type":"quantitative","axis":null},"text":{"field":"t"}}}
]},
{"layer":[
{"data":{"name":"base"},"transform":[{"filter":"datum.p==1&&datum.t=='H3K64ac'"}],"mark":{"type":"rule","color":"#d4bfac","strokeWidth":2.5},"encoding":{"x":{"field":"x1","type":"quantitative","scale":{"domain":[0,130],"range":[0,520],"nice":false,"zero":false},"axis":null},"x2":{"field":"x2"},"y":{"datum":0,"type":"quantitative","scale":{"domain":[0,62.5],"range":[400,325],"nice":false,"zero":false},"axis":null}}},
{"data":{"name":"band"},"transform":[{"filter":"datum.p==1"}],"mark":{"type":"rect","color":"#5642af","opacity":0.35},"encoding":{"x":{"field":"x1","type":"quantitative","axis":null},"x2":{"field":"x2"},"y":{"datum":0,"type":"quantitative","axis":null},"y2":{"datum":62.5}}},
{"data":{"name":"tracks"},"transform":[{"filter":"datum.t=='H3K64ac'"}],"mark":{"type":"text","align":"left","baseline":"middle","fontSize":24,"color":"#2a2a2a"},"encoding":{"x":{"datum":5.5,"type":"quantitative","axis":null},"y":{"datum":41.7,"type":"quantitative","axis":null},"text":{"field":"t"}}}
]},
{"layer":[
{"data":{"name":"base"},"transform":[{"filter":"datum.p==1&&datum.t=='H3K122ac'"}],"mark":{"type":"rule","color":"#ec5d48","strokeWidth":2.5},"encoding":{"x":{"field":"x1","type":"quantitative","scale":{"domain":[0,130],"range":[0,520],"nice":false,"zero":false},"axis":null},"x2":{"field":"x2"},"y":{"datum":0,"type":"quantitative","scale":{"domain":[0,62.5],"range":[475,400],"nice":false,"zero":false},"axis":null}}},
{"data":{"name":"band"},"transform":[{"filter":"datum.p==1"}],"mark":{"type":"rect","color":"#5642af","opacity":0.35},"encoding":{"x":{"field":"x1","type":"quantitative","axis":null},"x2":{"field":"x2"},"y":{"datum":0,"type":"quantitative","axis":null},"y2":{"datum":62.5}}},
{"data":{"name":"tracks"},"transform":[{"filter":"datum.t=='H3K122ac'"}],"mark":{"type":"text","align":"left","baseline":"middle","fontSize":24,"color":"#2a2a2a"},"encoding":{"x":{"datum":5.5,"type":"quantitative","axis":null},"y":{"datum":43,"type":"quantitative","axis":null},"text":{"field":"t"}}}
]},
{"layer":[
{"data":{"name":"base"},"transform":[{"filter":"datum.p==1&&datum.t=='H3K4me1'"}],"mark":{"type":"rule","color":"#8e8e8e","strokeWidth":2.5},"encoding":{"x":{"field":"x1","type":"quantitative","scale":{"domain":[0,130],"range":[0,520],"nice":false,"zero":false},"axis":null},"x2":{"field":"x2"},"y":{"datum":0,"type":"quantitative","scale":{"domain":[-2,25],"range":[556,475],"nice":false,"zero":false},"axis":null}}},
{"data":{"name":"band"},"transform":[{"filter":"datum.p==1"}],"mark":{"type":"rect","color":"#5642af","opacity":0.35},"encoding":{"x":{"field":"x1","type":"quantitative","axis":null},"x2":{"field":"x2"},"y":{"datum":0,"type":"quantitative","axis":null},"y2":{"datum":25}}},
{"data":{"name":"tracks"},"transform":[{"filter":"datum.t=='H3K4me1'"}],"mark":{"type":"text","align":"left","baseline":"middle","fontSize":24,"color":"#2a2a2a"},"encoding":{"x":{"datum":5.5,"type":"quantitative","axis":null},"y":{"datum":18.3,"type":"quantitative","axis":null},"text":{"field":"t"}}}
]},
{"layer":[
{"data":{"name":"base"},"transform":[{"filter":"datum.p==2&&datum.t=='EP300'"}],"mark":{"type":"rule","color":"#b9a6de","strokeWidth":2.5},"encoding":{"x":{"field":"x1","type":"quantitative","scale":{"domain":[0,146],"range":[520,1104],"nice":false,"zero":false},"axis":null},"x2":{"field":"x2"},"y":{"datum":0,"type":"quantitative","scale":{"domain":[0,62.5],"range":[98,23],"nice":false,"zero":false},"axis":null}}},
{"data":{"name":"sig"},"transform":[{"filter":"datum.p==2&&datum.t=='EP300'"}],"mark":{"type":"area","color":"#5b3b9f"},"encoding":{"x":{"field":"x","type":"quantitative","axis":null},"y":{"field":"v","type":"quantitative","axis":null}}},
{"data":{"name":"band"},"transform":[{"filter":"datum.p==2"}],"mark":{"type":"rect","color":"#5642af","opacity":0.35},"encoding":{"x":{"field":"x1","type":"quantitative","axis":null},"x2":{"field":"x2"},"y":{"datum":0,"type":"quantitative","axis":null},"y2":{"datum":14.2}}},
{"data":{"name":"chr"},"transform":[{"filter":"datum.p==2"}],"mark":{"type":"text","align":"right","baseline":"middle","dx":-12,"fontSize":25,"color":"#2a2a2a"},"encoding":{"x":{"field":"x","type":"quantitative","axis":null},"y":{"datum":59.2,"type":"quantitative","axis":null},"text":{"field":"lab"}}},
{"data":{"name":"chr"},"transform":[{"filter":"datum.p==2"}],"mark":{"type":"rule","color":"#a8a8a8","strokeWidth":2.5},"encoding":{"x":{"field":"x","type":"quantitative","axis":null},"y":{"datum":50.8,"type":"quantitative","axis":null},"y2":{"datum":67.5}}}
]},
{"layer":[
{"data":{"name":"base"},"transform":[{"filter":"datum.p==2&&datum.t=='H3K4me3'"}],"mark":{"type":"rule","color":"#c3de8e","strokeWidth":2.5},"encoding":{"x":{"field":"x1","type":"quantitative","scale":{"domain":[0,146],"range":[520,1104],"nice":false,"zero":false},"axis":null},"x2":{"field":"x2"},"y":{"datum":0,"type":"quantitative","scale":{"domain":[0,62.5],"range":[173,98],"nice":false,"zero":false},"axis":null}}},
{"data":{"name":"sig"},"transform":[{"filter":"datum.p==2&&datum.t=='H3K4me3'"}],"mark":{"type":"area","color":"#7cb33a"},"encoding":{"x":{"field":"x","type":"quantitative","axis":null},"y":{"field":"v","type":"quantitative","axis":null}}},
{"data":{"name":"band"},"transform":[{"filter":"datum.p==2"}],"mark":{"type":"rect","color":"#5642af","opacity":0.35},"encoding":{"x":{"field":"x1","type":"quantitative","axis":null},"x2":{"field":"x2"},"y":{"datum":0,"type":"quantitative","axis":null},"y2":{"datum":62.5}}}
]},
{"layer":[
{"data":{"name":"base"},"transform":[{"filter":"datum.p==2&&datum.t=='H4K16ac'"}],"mark":{"type":"rule","color":"#a9cff3","strokeWidth":2.5},"encoding":{"x":{"field":"x1","type":"quantitative","scale":{"domain":[0,146],"range":[520,1104],"nice":false,"zero":false},"axis":null},"x2":{"field":"x2"},"y":{"datum":0,"type":"quantitative","scale":{"domain":[0,62.5],"range":[248,173],"nice":false,"zero":false},"axis":null}}},
{"data":{"name":"sig"},"transform":[{"filter":"datum.p==2&&datum.t=='H4K16ac'"}],"mark":{"type":"area","color":"#3f88db"},"encoding":{"x":{"field":"x","type":"quantitative","axis":null},"y":{"field":"v","type":"quantitative","axis":null}}},
{"data":{"name":"band"},"transform":[{"filter":"datum.p==2"}],"mark":{"type":"rect","color":"#5642af","opacity":0.35},"encoding":{"x":{"field":"x1","type":"quantitative","axis":null},"x2":{"field":"x2"},"y":{"datum":0,"type":"quantitative","axis":null},"y2":{"datum":62.5}}}
]},
{"layer":[
{"data":{"name":"base"},"transform":[{"filter":"datum.p==2&&datum.t=='H3K27ac'"}],"mark":{"type":"rule","color":"#f3b566","strokeWidth":2.5},"encoding":{"x":{"field":"x1","type":"quantitative","scale":{"domain":[0,146],"range":[520,1104],"nice":false,"zero":false},"axis":null},"x2":{"field":"x2"},"y":{"datum":0,"type":"quantitative","scale":{"domain":[0,62.5],"range":[323,248],"nice":false,"zero":false},"axis":null}}},
{"data":{"name":"sig"},"transform":[{"filter":"datum.p==2&&datum.t=='H3K27ac'"}],"mark":{"type":"area","color":"#db8a28"},"encoding":{"x":{"field":"x","type":"quantitative","axis":null},"y":{"field":"v","type":"quantitative","axis":null}}},
{"data":{"name":"band"},"transform":[{"filter":"datum.p==2"}],"mark":{"type":"rect","color":"#5642af","opacity":0.35},"encoding":{"x":{"field":"x1","type":"quantitative","axis":null},"x2":{"field":"x2"},"y":{"datum":0,"type":"quantitative","axis":null},"y2":{"datum":62.5}}}
]},
{"layer":[
{"data":{"name":"base"},"transform":[{"filter":"datum.p==2&&datum.t=='H3K64ac'"}],"mark":{"type":"rule","color":"#d4bfac","strokeWidth":2.5},"encoding":{"x":{"field":"x1","type":"quantitative","scale":{"domain":[0,146],"range":[520,1104],"nice":false,"zero":false},"axis":null},"x2":{"field":"x2"},"y":{"datum":0,"type":"quantitative","scale":{"domain":[0,62.5],"range":[398,323],"nice":false,"zero":false},"axis":null}}},
{"data":{"name":"sig"},"transform":[{"filter":"datum.p==2&&datum.t=='H3K64ac'"}],"mark":{"type":"area","color":"#7a4d3b"},"encoding":{"x":{"field":"x","type":"quantitative","axis":null},"y":{"field":"v","type":"quantitative","axis":null}}},
{"data":{"name":"band"},"transform":[{"filter":"datum.p==2"}],"mark":{"type":"rect","color":"#5642af","opacity":0.35},"encoding":{"x":{"field":"x1","type":"quantitative","axis":null},"x2":{"field":"x2"},"y":{"datum":0,"type":"quantitative","axis":null},"y2":{"datum":62.5}}}
]},
{"layer":[
{"data":{"name":"base"},"transform":[{"filter":"datum.p==2&&datum.t=='H3K122ac'"}],"mark":{"type":"rule","color":"#ec5d48","strokeWidth":2.5},"encoding":{"x":{"field":"x1","type":"quantitative","scale":{"domain":[0,146],"range":[520,1104],"nice":false,"zero":false},"axis":null},"x2":{"field":"x2"},"y":{"datum":0,"type":"quantitative","scale":{"domain":[0,62.5],"range":[473,398],"nice":false,"zero":false},"axis":null}}},
{"data":{"name":"sig"},"transform":[{"filter":"datum.p==2&&datum.t=='H3K122ac'"}],"mark":{"type":"area","color":"#e2372f"},"encoding":{"x":{"field":"x","type":"quantitative","axis":null},"y":{"field":"v","type":"quantitative","axis":null}}},
{"data":{"name":"band"},"transform":[{"filter":"datum.p==2"}],"mark":{"type":"rect","color":"#5642af","opacity":0.35},"encoding":{"x":{"field":"x1","type":"quantitative","axis":null},"x2":{"field":"x2"},"y":{"datum":0,"type":"quantitative","axis":null},"y2":{"datum":62.5}}}
]},
{"layer":[
{"data":{"name":"base"},"transform":[{"filter":"datum.p==2&&datum.t=='H3K4me1'"}],"mark":{"type":"rule","color":"#8e8e8e","strokeWidth":2.5},"encoding":{"x":{"field":"x1","type":"quantitative","scale":{"domain":[0,146],"range":[520,1104],"nice":false,"zero":false},"axis":null},"x2":{"field":"x2"},"y":{"datum":0,"type":"quantitative","scale":{"domain":[0,25],"range":[548,473],"nice":false,"zero":false},"axis":null}}},
{"data":{"name":"sig"},"transform":[{"filter":"datum.p==2&&datum.t=='H3K4me1'"}],"mark":{"type":"area","color":"#474747"},"encoding":{"x":{"field":"x","type":"quantitative","axis":null},"y":{"field":"v","type":"quantitative","axis":null}}},
{"data":{"name":"band"},"transform":[{"filter":"datum.p==2"}],"mark":{"type":"rect","color":"#5642af","opacity":0.35},"encoding":{"x":{"field":"x1","type":"quantitative","axis":null},"x2":{"field":"x2"},"y":{"datum":0,"type":"quantitative","axis":null},"y2":{"datum":25}}}
]},
{"layer":[
{"data":{"name":"base"},"transform":[{"filter":"datum.p==3&&datum.t=='EP300'"}],"mark":{"type":"rule","color":"#b9a6de","strokeWidth":2.5},"encoding":{"x":{"field":"x1","type":"quantitative","scale":{"domain":[0,149.25],"range":[1104,1701],"nice":false,"zero":false},"axis":null},"x2":{"field":"x2"},"y":{"datum":0,"type":"quantitative","scale":{"domain":[0,62.5],"range":[98,23],"nice":false,"zero":false},"axis":null}}},
{"data":{"name":"sig"},"transform":[{"filter":"datum.p==3&&datum.t=='EP300'"}],"mark":{"type":"area","color":"#5b3b9f"},"encoding":{"x":{"field":"x","type":"quantitative","axis":null},"y":{"field":"v","type":"quantitative","axis":null}}},
{"data":{"name":"band"},"transform":[{"filter":"datum.p==3"}],"mark":{"type":"rect","color":"#5642af","opacity":0.35},"encoding":{"x":{"field":"x1","type":"quantitative","axis":null},"x2":{"field":"x2"},"y":{"datum":0,"type":"quantitative","axis":null},"y2":{"datum":18.3}}},
{"data":{"name":"chr"},"transform":[{"filter":"datum.p==3"}],"mark":{"type":"text","align":"right","baseline":"middle","dx":-12,"fontSize":25,"color":"#2a2a2a"},"encoding":{"x":{"field":"x","type":"quantitative","axis":null},"y":{"datum":60.8,"type":"quantitative","axis":null},"text":{"field":"lab"}}},
{"data":{"name":"chr"},"transform":[{"filter":"datum.p==3"}],"mark":{"type":"rule","color":"#a8a8a8","strokeWidth":2.5},"encoding":{"x":{"field":"x","type":"quantitative","axis":null},"y":{"datum":54,"type":"quantitative","axis":null},"y2":{"datum":71}}}
]},
{"layer":[
{"data":{"name":"base"},"transform":[{"filter":"datum.p==3&&datum.t=='H3K4me3'"}],"mark":{"type":"rule","color":"#c3de8e","strokeWidth":2.5},"encoding":{"x":{"field":"x1","type":"quantitative","scale":{"domain":[0,149.25],"range":[1104,1701],"nice":false,"zero":false},"axis":null},"x2":{"field":"x2"},"y":{"datum":0,"type":"quantitative","scale":{"domain":[0,62.5],"range":[173,98],"nice":false,"zero":false},"axis":null}}},
{"data":{"name":"sig"},"transform":[{"filter":"datum.p==3&&datum.t=='H3K4me3'"}],"mark":{"type":"area","color":"#7cb33a"},"encoding":{"x":{"field":"x","type":"quantitative","axis":null},"y":{"field":"v","type":"quantitative","axis":null}}},
{"data":{"name":"band"},"transform":[{"filter":"datum.p==3"}],"mark":{"type":"rect","color":"#5642af","opacity":0.35},"encoding":{"x":{"field":"x1","type":"quantitative","axis":null},"x2":{"field":"x2"},"y":{"datum":0,"type":"quantitative","axis":null},"y2":{"datum":62.5}}}
]},
{"layer":[
{"data":{"name":"base"},"transform":[{"filter":"datum.p==3&&datum.t=='H4K16ac'"}],"mark":{"type":"rule","color":"#a9cff3","strokeWidth":2.5},"encoding":{"x":{"field":"x1","type":"quantitative","scale":{"domain":[0,149.25],"range":[1104,1701],"nice":false,"zero":false},"axis":null},"x2":{"field":"x2"},"y":{"datum":0,"type":"quantitative","scale":{"domain":[0,62.5],"range":[248,173],"nice":false,"zero":false},"axis":null}}},
{"data":{"name":"sig"},"transform":[{"filter":"datum.p==3&&datum.t=='H4K16ac'"}],"mark":{"type":"area","color":"#3f88db"},"encoding":{"x":{"field":"x","type":"quantitative","axis":null},"y":{"field":"v","type":"quantitative","axis":null}}},
{"data":{"name":"band"},"transform":[{"filter":"datum.p==3"}],"mark":{"type":"rect","color":"#5642af","opacity":0.35},"encoding":{"x":{"field":"x1","type":"quantitative","axis":null},"x2":{"field":"x2"},"y":{"datum":0,"type":"quantitative","axis":null},"y2":{"datum":62.5}}}
]},
{"layer":[
{"data":{"name":"base"},"transform":[{"filter":"datum.p==3&&datum.t=='H3K27ac'"}],"mark":{"type":"rule","color":"#f3b566","strokeWidth":2.5},"encoding":{"x":{"field":"x1","type":"quantitative","scale":{"domain":[0,149.25],"range":[1104,1701],"nice":false,"zero":false},"axis":null},"x2":{"field":"x2"},"y":{"datum":0,"type":"quantitative","scale":{"domain":[0,62.5],"range":[323,248],"nice":false,"zero":false},"axis":null}}},
{"data":{"name":"sig"},"transform":[{"filter":"datum.p==3&&datum.t=='H3K27ac'"}],"mark":{"type":"area","color":"#db8a28"},"encoding":{"x":{"field":"x","type":"quantitative","axis":null},"y":{"field":"v","type":"quantitative","axis":null}}},
{"data":{"name":"band"},"transform":[{"filter":"datum.p==3"}],"mark":{"type":"rect","color":"#5642af","opacity":0.35},"encoding":{"x":{"field":"x1","type":"quantitative","axis":null},"x2":{"field":"x2"},"y":{"datum":0,"type":"quantitative","axis":null},"y2":{"datum":62.5}}}
]},
{"layer":[
{"data":{"name":"base"},"transform":[{"filter":"datum.p==3&&datum.t=='H3K64ac'"}],"mark":{"type":"rule","color":"#d4bfac","strokeWidth":2.5},"encoding":{"x":{"field":"x1","type":"quantitative","scale":{"domain":[0,149.25],"range":[1104,1701],"nice":false,"zero":false},"axis":null},"x2":{"field":"x2"},"y":{"datum":0,"type":"quantitative","scale":{"domain":[0,62.5],"range":[398,323],"nice":false,"zero":false},"axis":null}}},
{"data":{"name":"sig"},"transform":[{"filter":"datum.p==3&&datum.t=='H3K64ac'"}],"mark":{"type":"area","color":"#7a4d3b"},"encoding":{"x":{"field":"x","type":"quantitative","axis":null},"y":{"field":"v","type":"quantitative","axis":null}}},
{"data":{"name":"band"},"transform":[{"filter":"datum.p==3"}],"mark":{"type":"rect","color":"#5642af","opacity":0.35},"encoding":{"x":{"field":"x1","type":"quantitative","axis":null},"x2":{"field":"x2"},"y":{"datum":0,"type":"quantitative","axis":null},"y2":{"datum":62.5}}}
]},
{"layer":[
{"data":{"name":"base"},"transform":[{"filter":"datum.p==3&&datum.t=='H3K122ac'"}],"mark":{"type":"rule","color":"#ec5d48","strokeWidth":2.5},"encoding":{"x":{"field":"x1","type":"quantitative","scale":{"domain":[0,149.25],"range":[1104,1701],"nice":false,"zero":false},"axis":null},"x2":{"field":"x2"},"y":{"datum":0,"type":"quantitative","scale":{"domain":[0,62.5],"range":[473,398],"nice":false,"zero":false},"axis":null}}},
{"data":{"name":"sig"},"transform":[{"filter":"datum.p==3&&datum.t=='H3K122ac'"}],"mark":{"type":"area","color":"#e2372f"},"encoding":{"x":{"field":"x","type":"quantitative","axis":null},"y":{"field":"v","type":"quantitative","axis":null}}},
{"data":{"name":"band"},"transform":[{"filter":"datum.p==3"}],"mark":{"type":"rect","color":"#5642af","opacity":0.35},"encoding":{"x":{"field":"x1","type":"quantitative","axis":null},"x2":{"field":"x2"},"y":{"datum":0,"type":"quantitative","axis":null},"y2":{"datum":62.5}}}
]},
{"layer":[
{"data":{"name":"base"},"transform":[{"filter":"datum.p==3&&datum.t=='H3K4me1'"}],"mark":{"type":"rule","color":"#8e8e8e","strokeWidth":2.5},"encoding":{"x":{"field":"x1","type":"quantitative","scale":{"domain":[0,149.25],"range":[1104,1701],"nice":false,"zero":false},"axis":null},"x2":{"field":"x2"},"y":{"datum":0,"type":"quantitative","scale":{"domain":[0,25],"range":[548,473],"nice":false,"zero":false},"axis":null}}},
{"data":{"name":"sig"},"transform":[{"filter":"datum.p==3&&datum.t=='H3K4me1'"}],"mark":{"type":"area","color":"#474747"},"encoding":{"x":{"field":"x","type":"quantitative","axis":null},"y":{"field":"v","type":"quantitative","axis":null}}},
{"data":{"name":"band"},"transform":[{"filter":"datum.p==3"}],"mark":{"type":"rect","color":"#5642af","opacity":0.35},"encoding":{"x":{"field":"x1","type":"quantitative","axis":null},"x2":{"field":"x2"},"y":{"datum":0,"type":"quantitative","axis":null},"y2":{"datum":25}}}
]},
{"layer":[
{"data":{"values":[{"lab":"DHS"}]},"mark":{"type":"text","align":"left","baseline":"middle","fontSize":24,"color":"#2a2a2a"},"encoding":{"x":{"datum":5.75,"type":"quantitative","scale":{"domain":[0,130],"range":[0,520],"nice":false,"zero":false},"axis":null},"y":{"datum":10.6,"type":"quantitative","scale":{"domain":[0,12.4],"range":[679,555],"nice":false,"zero":false},"axis":null},"text":{"field":"lab"}}},
{"data":{"name":"dhs"},"transform":[{"filter":"datum.p==1"}],"mark":{"type":"rect","color":"#9d9da1"},"encoding":{"x":{"field":"x1","type":"quantitative","axis":null},"x2":{"field":"x2"},"y":{"datum":9.6,"type":"quantitative","axis":null},"y2":{"datum":11.3}}},
{"data":{"name":"site"},"transform":[{"filter":"datum.p==1"}],"mark":{"type":"rule","color":"#333333","strokeWidth":2},"encoding":{"x":{"field":"x","type":"quantitative","axis":null},"y":{"datum":6.2,"type":"quantitative","axis":null},"y2":{"datum":8.3}}},
{"data":{"name":"site"},"transform":[{"filter":"datum.p==1"}],"mark":{"type":"point","shape":"M-0.8,0.8L0,0L0.8,0.8","filled":false,"color":"#333333","strokeWidth":2,"size":144,"opacity":1},"encoding":{"x":{"field":"x","type":"quantitative","axis":null},"y":{"datum":8.4,"type":"quantitative","axis":null}}},
{"data":{"name":"site"},"transform":[{"filter":"datum.p==1"}],"mark":{"type":"text","fontSize":24,"color":"#2a2a2a","baseline":"middle"},"encoding":{"x":{"field":"x","type":"quantitative","axis":null},"y":{"datum":4.2,"type":"quantitative","axis":null},"text":{"field":"n"}}},
{"data":{"name":"gene"},"transform":[{"filter":"datum.p==1"}],"mark":{"type":"rect"},"encoding":{"x":{"field":"s","type":"quantitative","axis":null},"x2":{"field":"e"},"y":{"datum":6.6,"type":"quantitative","axis":null},"y2":{"datum":8.1},"color":{"field":"role","type":"nominal","scale":{"domain":["target","neighbor"],"range":["#3d3d3d","#c8c8c8"]},"legend":null}}},
{"data":{"name":"gene"},"transform":[{"filter":"datum.p==1"}],"mark":{"type":"rule","color":"#3a3a3a","strokeWidth":2},"encoding":{"x":{"field":"tss","type":"quantitative","axis":null},"y":{"datum":5.2,"type":"quantitative","axis":null},"y2":{"datum":6.6}}},
{"data":{"name":"gene"},"transform":[{"filter":"datum.p==1"}],"mark":{"type":"rule","color":"#3a3a3a","strokeWidth":2},"encoding":{"x":{"field":"tss","type":"quantitative","axis":null},"x2":{"field":"tip"},"y":{"datum":5.2,"type":"quantitative","axis":null}}},
{"data":{"name":"gene"},"transform":[{"filter":"datum.p==1"}],"mark":{"type":"point","filled":false,"color":"#3a3a3a","strokeWidth":2,"size":144,"opacity":1},"encoding":{"x":{"field":"tip","type":"quantitative","axis":null},"y":{"datum":5.2,"type":"quantitative","axis":null},"shape":{"field":"strand","type":"nominal","scale":{"domain":["+","-"],"range":["M-0.8,-0.8L0,0L-0.8,0.8","M0.8,-0.8L0,0L0.8,0.8"]},"legend":null}}},
{"data":{"name":"gene"},"transform":[{"filter":"datum.p==1"}],"mark":{"type":"text","fontSize":24,"fontStyle":"italic","color":"#2a2a2a","baseline":"middle"},"encoding":{"x":{"field":"lx","type":"quantitative","axis":null},"y":{"datum":1.3,"type":"quantitative","axis":null},"text":{"field":"g"}}},
{"data":{"name":"enh"},"transform":[{"filter":"datum.p==1"}],"mark":{"type":"text","fontSize":24,"fontStyle":"italic","color":"#2a2a2a","baseline":"middle","align":"right","dx":-3},"encoding":{"x":{"field":"x","type":"quantitative","axis":null},"y":{"datum":1.3,"type":"quantitative","axis":null},"text":{"field":"g"}}},
{"data":{"name":"enh"},"transform":[{"filter":"datum.p==1"}],"mark":{"type":"text","fontSize":24,"color":"#2a2a2a","baseline":"middle","align":"left","dx":3},"encoding":{"x":{"field":"x","type":"quantitative","axis":null},"y":{"datum":1.3,"type":"quantitative","axis":null},"text":{"field":"r"}}}
]},
{"layer":[
{"data":{"name":"dhs"},"transform":[{"filter":"datum.p==2"}],"mark":{"type":"rect","color":"#9d9da1"},"encoding":{"x":{"field":"x1","type":"quantitative","scale":{"domain":[0,146],"range":[520,1104],"nice":false,"zero":false},"axis":null},"x2":{"field":"x2"},"y":{"datum":9.6,"type":"quantitative","scale":{"domain":[0,12.4],"range":[679,555],"nice":false,"zero":false},"axis":null},"y2":{"datum":11.3}}},
{"data":{"name":"star"},"transform":[{"filter":"datum.p==2"}],"mark":{"type":"text","fontSize":22,"color":"#2a2a2a","baseline":"alphabetic"},"encoding":{"x":{"field":"x","type":"quantitative","axis":null},"y":{"datum":6.7,"type":"quantitative","axis":null},"text":{"field":"s"}}},
{"data":{"name":"gene"},"transform":[{"filter":"datum.p==2"}],"mark":{"type":"rect"},"encoding":{"x":{"field":"s","type":"quantitative","axis":null},"x2":{"field":"e"},"y":{"datum":7.3,"type":"quantitative","axis":null},"y2":{"datum":8.6},"color":{"field":"role","type":"nominal","scale":{"domain":["target","neighbor"],"range":["#3d3d3d","#c8c8c8"]},"legend":null}}},
{"data":{"name":"gene"},"transform":[{"filter":"datum.p==2"}],"mark":{"type":"rule","color":"#3a3a3a","strokeWidth":2},"encoding":{"x":{"field":"tss","type":"quantitative","axis":null},"y":{"datum":5.4,"type":"quantitative","axis":null},"y2":{"datum":7.3}}},
{"data":{"name":"gene"},"transform":[{"filter":"datum.p==2"}],"mark":{"type":"rule","color":"#3a3a3a","strokeWidth":2},"encoding":{"x":{"field":"tss","type":"quantitative","axis":null},"x2":{"field":"tip"},"y":{"datum":5.4,"type":"quantitative","axis":null}}},
{"data":{"name":"gene"},"transform":[{"filter":"datum.p==2"}],"mark":{"type":"point","filled":false,"color":"#3a3a3a","strokeWidth":2,"size":144,"opacity":1},"encoding":{"x":{"field":"tip","type":"quantitative","axis":null},"y":{"datum":5.4,"type":"quantitative","axis":null},"shape":{"field":"strand","type":"nominal","scale":{"domain":["+","-"],"range":["M-0.8,-0.8L0,0L-0.8,0.8","M0.8,-0.8L0,0L0.8,0.8"]},"legend":null}}},
{"data":{"name":"gene"},"transform":[{"filter":"datum.p==2"}],"mark":{"type":"text","fontSize":24,"fontStyle":"italic","color":"#2a2a2a","baseline":"middle"},"encoding":{"x":{"field":"lx","type":"quantitative","axis":null},"y":{"datum":1.3,"type":"quantitative","axis":null},"text":{"field":"g"}}},
{"data":{"name":"enh"},"transform":[{"filter":"datum.p==2"}],"mark":{"type":"text","fontSize":24,"fontStyle":"italic","color":"#2a2a2a","baseline":"middle","align":"right","dx":-3},"encoding":{"x":{"field":"x","type":"quantitative","axis":null},"y":{"datum":1.3,"type":"quantitative","axis":null},"text":{"field":"g"}}},
{"data":{"name":"enh"},"transform":[{"filter":"datum.p==2"}],"mark":{"type":"text","fontSize":24,"color":"#2a2a2a","baseline":"middle","align":"left","dx":3},"encoding":{"x":{"field":"x","type":"quantitative","axis":null},"y":{"datum":1.3,"type":"quantitative","axis":null},"text":{"field":"r"}}}
]},
{"layer":[
{"data":{"name":"dhs"},"transform":[{"filter":"datum.p==3"}],"mark":{"type":"rect","color":"#9d9da1"},"encoding":{"x":{"field":"x1","type":"quantitative","scale":{"domain":[0,149.25],"range":[1104,1701],"nice":false,"zero":false},"axis":null},"x2":{"field":"x2"},"y":{"datum":9.8,"type":"quantitative","scale":{"domain":[0,12.4],"range":[679,555],"nice":false,"zero":false},"axis":null},"y2":{"datum":11.5}}},
{"data":{"name":"site"},"transform":[{"filter":"datum.p==3"}],"mark":{"type":"rule","color":"#333333","strokeWidth":2},"encoding":{"x":{"field":"x","type":"quantitative","axis":null},"y":{"datum":6.6,"type":"quantitative","axis":null},"y2":{"datum":8.6}}},
{"data":{"name":"site"},"transform":[{"filter":"datum.p==3"}],"mark":{"type":"point","shape":"M-0.8,0.8L0,0L0.8,0.8","filled":false,"color":"#333333","strokeWidth":2,"size":144,"opacity":1},"encoding":{"x":{"field":"x","type":"quantitative","axis":null},"y":{"datum":8.7,"type":"quantitative","axis":null}}},
{"data":{"name":"site"},"transform":[{"filter":"datum.p==3"}],"mark":{"type":"text","fontSize":24,"color":"#2a2a2a","baseline":"middle"},"encoding":{"x":{"field":"x","type":"quantitative","axis":null},"y":{"datum":5.6,"type":"quantitative","axis":null},"text":{"field":"n"}}},
{"data":{"name":"star"},"transform":[{"filter":"datum.p==3"}],"mark":{"type":"text","fontSize":22,"color":"#2a2a2a","baseline":"alphabetic"},"encoding":{"x":{"field":"x","type":"quantitative","axis":null},"y":{"datum":7.0,"type":"quantitative","axis":null},"text":{"field":"s"}}},
{"data":{"name":"gene"},"transform":[{"filter":"datum.p==3"}],"mark":{"type":"rect"},"encoding":{"x":{"field":"s","type":"quantitative","axis":null},"x2":{"field":"e"},"y":{"datum":7.5,"type":"quantitative","axis":null},"y2":{"datum":8.7},"color":{"field":"role","type":"nominal","scale":{"domain":["target","neighbor"],"range":["#3d3d3d","#c8c8c8"]},"legend":null}}},
{"data":{"name":"gene"},"transform":[{"filter":"datum.p==3"}],"mark":{"type":"rule","color":"#3a3a3a","strokeWidth":2},"encoding":{"x":{"field":"tss","type":"quantitative","axis":null},"y":{"datum":5.9,"type":"quantitative","axis":null},"y2":{"datum":7.5}}},
{"data":{"name":"gene"},"transform":[{"filter":"datum.p==3"}],"mark":{"type":"rule","color":"#3a3a3a","strokeWidth":2},"encoding":{"x":{"field":"tss","type":"quantitative","axis":null},"x2":{"field":"tip"},"y":{"datum":5.9,"type":"quantitative","axis":null}}},
{"data":{"name":"gene"},"transform":[{"filter":"datum.p==3"}],"mark":{"type":"point","filled":false,"color":"#3a3a3a","strokeWidth":2,"size":144,"opacity":1},"encoding":{"x":{"field":"tip","type":"quantitative","axis":null},"y":{"datum":5.9,"type":"quantitative","axis":null},"shape":{"field":"strand","type":"nominal","scale":{"domain":["+","-"],"range":["M-0.8,-0.8L0,0L-0.8,0.8","M0.8,-0.8L0,0L0.8,0.8"]},"legend":null}}},
{"data":{"name":"gene"},"transform":[{"filter":"datum.p==3"}],"mark":{"type":"text","fontSize":24,"fontStyle":"italic","color":"#2a2a2a","baseline":"middle"},"encoding":{"x":{"field":"lx","type":"quantitative","axis":null},"y":{"datum":1.3,"type":"quantitative","axis":null},"text":{"field":"g"}}},
{"data":{"name":"enh"},"transform":[{"filter":"datum.p==3"}],"mark":{"type":"text","fontSize":24,"fontStyle":"italic","color":"#2a2a2a","baseline":"middle","align":"right","dx":-3},"encoding":{"x":{"field":"x","type":"quantitative","axis":null},"y":{"datum":1.3,"type":"quantitative","axis":null},"text":{"field":"g"}}},
{"data":{"name":"enh"},"transform":[{"filter":"datum.p==3"}],"mark":{"type":"text","fontSize":24,"color":"#2a2a2a","baseline":"middle","align":"left","dx":3},"encoding":{"x":{"field":"x","type":"quantitative","axis":null},"y":{"datum":1.3,"type":"quantitative","axis":null},"text":{"field":"r"}}}
]}
],
"resolve":{"scale":{"x":"independent","y":"independent"},"axis":{"x":"independent","y":"independent"}}
}
